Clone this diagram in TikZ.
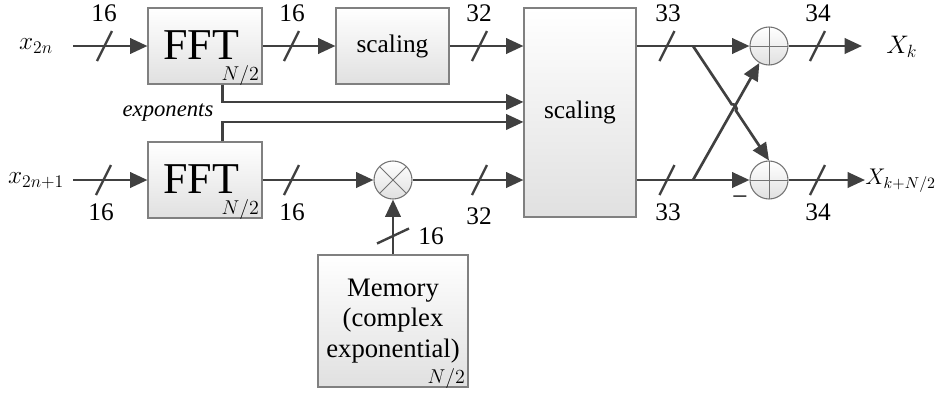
\RequirePackage{fix-cm}
\documentclass[tikz,border=0pt]{standalone}
\usepackage{fontspec}
\setmainfont{Liberation Serif}
\usetikzlibrary{arrows.meta,calc}

\begin{document}
\begin{tikzpicture}[
    x=0.75pt, y=-0.75pt,
    font=\fontsize{19}{22}\selectfont,
    wire/.style={draw=black!75, line width=2pt},
    sig/.style={wire, -{Triangle[length=13pt,width=11.5pt]}},
    busline/.style={draw=black!75, line width=1.8pt},
    block/.style={draw=black!50, line width=0.8pt, top color=white, bottom color=black!12, inner sep=0pt},
    joint/.style={circle, draw=black!55, line width=0.8pt, top color=white, bottom color=black!12, minimum size=28.5pt, inner sep=0pt},
    adder/.style={joint, path picture={
        \draw[black!55, line width=0.6pt] (path picture bounding box.north) -- (path picture bounding box.south)
          (path picture bounding box.west) -- (path picture bounding box.east);}},
    mixer/.style={joint, path picture={
        \draw[black!55, line width=0.6pt] (path picture bounding box.north west) -- (path picture bounding box.south east)
          (path picture bounding box.north east) -- (path picture bounding box.south west);}},
    bus/.pic={\draw[busline] (-7.5,15) -- (7.5,-15);},
    vbus/.pic={\draw[busline] (-16,7.5) -- (16,-7.5);},
    npoints/.style={font=\fontsize{15}{17}\selectfont, anchor=base east, inner sep=0pt},
    fftbox/.style={block, minimum width=85.5pt, minimum height=57pt},
    fftname/.style={font=\fontsize{33}{36}\selectfont, inner sep=0pt}
  ]
    \useasboundingbox (0,0) rectangle (939,394);

    % blocks
    \node[fftbox] (fftA) at (205,46) {};
    \node[fftname] (tA) at (201,45) {FFT};
    \node[npoints] (nA) at ([xshift=-2.5pt,yshift=3pt]fftA.south east) {$N/2$};
    \node[fftbox] (fftB) at (205,180) {};
    \node[fftname] (tB) at (201,179) {FFT};
    \node[npoints] (nB) at ([xshift=-2.5pt,yshift=3pt]fftB.south east) {$N/2$};
    \node[block, minimum width=84.75pt, minimum height=57pt] (scA) at (392.5,46) {scaling};
    \node[block, minimum width=84pt, minimum height=156.75pt] (scB) at (580,112.5) {scaling};
    \node[block, minimum width=112.5pt, minimum height=99pt, align=center,
          font=\fontsize{20}{23}\selectfont] (mem) at (393,321) {Memory\\(complex\\exponential)};
    \node[npoints] (nM) at ([xshift=-2.5pt,yshift=3pt]mem.south east) {$N/2$};
    \node[mixer] (mult) at (393,180) {};
    \node[adder] (addA) at (769,46) {};
    \node[adder] (addB) at (769,180) {};

    % inputs and outputs
    \node (xa) at (36,46) {$x_{2n}$};
    \node (xb) at (36,181) {$x_{2n+1}$};
    \node[anchor=west, inner sep=0pt] (Xa) at (886,47) {$X_k$};
    \node[anchor=west, inner sep=0pt, font=\fontsize{17}{20}\selectfont] (Xb) at (865,181) {$X_{k+N/2}$};
    \coordinate (ina) at (73,46);
    \coordinate (inb) at (73,180);
    \coordinate (outa) at (862,46);
    \coordinate (outb) at (865,180);

    % upper path
    \draw[sig] (ina) -- (fftA);
    \draw[sig] (fftA) -- (scA);
    \draw[sig] (scA) -- (scB.west |- scA);
    \draw[sig] (scB.east |- addA) -- (addA);
    \draw[sig] (addA) -- (outa);

    % lower path
    \draw[sig] (inb) -- (fftB);
    \draw[sig] (fftB) -- (mult);
    \draw[sig] (mult) -- (scB.west |- mult);
    \draw[sig] (mem) -- (mult);
    \draw[sig] (scB.east |- addB) -- (addB);
    \draw[sig] (addB) -- (outb);

    % exponents into the second scaling
    \draw[sig] ([xshift=56.25pt]fftA.south west) |- ([yshift=7.9pt]scB.west);
    \draw[sig] ([xshift=56.25pt]fftB.north west) |- ([yshift=-7.1pt]scB.west);
    \node (exps) at (168,113) {\fontsize{17}{20}\selectfont\itshape exponents};

    % butterfly
    \coordinate (forkA) at (693,46);
    \coordinate (forkB) at (693,180);
    \coordinate (hopin) at ($(forkA)!0.51!(addB.north)$);
    \coordinate (hopout) at ($(forkA)!0.565!(addB.north)$);
    \draw[sig] (forkB) -- (addA);
    \draw[sig] (forkA) -- (hopin) to[bend left=90] (hopout) -- (addB.north);
    \node (neg) at (740,199) {--};

    % bus widths
    \pic at (104.5,46) {bus};
    \pic at (291.5,46) {bus};
    \pic at (479.5,46) {bus};
    \pic at (667,46) {bus};
    \pic at (817.5,46) {bus};
    \pic at (103.5,180) {bus};
    \pic at (291.5,180) {bus};
    \pic at (479.5,180) {bus};
    \pic at (667,180) {bus};
    \pic at (817.5,180) {bus};
    \pic at (393,236) {vbus};
    \node (wa1) at (104,13) {16};
    \node (wa2) at (292,13) {16};
    \node (wa3) at (479,13) {32};
    \node (wa4) at (668,13) {33};
    \node (wa5) at (818,13) {34};
    \node (wb1) at (101,212) {16};
    \node (wb2) at (292,212) {16};
    \node (wb3) at (479,216) {32};
    \node (wb4) at (668,212) {33};
    \node (wb5) at (818,212) {34};
    \node (wm) at (431,236) {16};
  \end{tikzpicture}
\end{document}
